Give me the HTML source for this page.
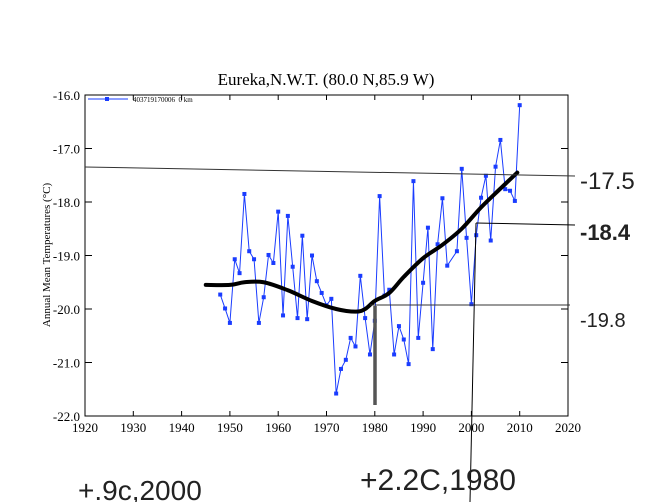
<!DOCTYPE html>
<html><head><meta charset="utf-8"><style>
body{margin:0;background:#fff;}
svg{display:block;font-family:"Liberation Serif",serif;}
.hand{font-family:"Liberation Sans",sans-serif;fill:#222;}
</style></head><body>
<svg id="chart" width="650" height="502" viewBox="0 0 650 502">
<rect width="650" height="502" fill="#fff"/>
<text x="326" y="85" text-anchor="middle" font-size="17">Eureka,N.W.T. (80.0 N,85.9 W)</text>
<text transform="translate(50,255) rotate(-90)" text-anchor="middle" font-size="11">Annual Mean Temperatures (°C)</text>
<rect x="85" y="95" width="483" height="321" fill="none" stroke="#000" stroke-width="1"/>
<g id="axes"></g>
<g>
<line x1="88" y1="99" x2="128" y2="99" stroke="#1a3cff" stroke-width="1"/>
<rect x="105" y="97" width="4" height="4" fill="#1a3cff"/>
<text x="133" y="102" font-size="7">403719170006 &#160;0 km</text>
</g>
<g id="series"></g>
<g fill="none">
<line x1="85" y1="167" x2="575" y2="176" stroke="#333" stroke-width="1"/>
<line x1="476" y1="223" x2="575" y2="225" stroke="#000" stroke-width="1"/>
<line x1="370" y1="305" x2="570" y2="305" stroke="#333" stroke-width="1"/>
<line x1="476" y1="223" x2="470" y2="502" stroke="#000" stroke-width="1"/>
<line x1="375" y1="306" x2="375" y2="405" stroke="#555" stroke-width="3.5"/>
</g>
<text class="hand" x="580" y="189" font-size="24">-17.5</text>
<text class="hand" x="580" y="240" font-size="22" font-weight="bold">-18.4</text>
<text class="hand" x="580" y="327" font-size="20">-19.8</text>
<text class="hand" x="78" y="500" font-size="28" fill="#444">+.9c,2000</text>
<text class="hand" x="360" y="490" font-size="30" fill="#444">+2.2C,1980</text>
</svg>
<script>
const years=[1948,1949,1950,1951,1952,1953,1954,1955,1956,1957,1958,1959,1960,1961,1962,1963,1964,1965,1966,1967,1968,1969,1970,1971,1972,1973,1974,1975,1976,1977,1978,1979,1980,1981,1982,1983,1984,1985,1986,1987,1988,1989,1990,1991,1992,1993,1994,1995,1997,1998,1999,2000,2001,2002,2003,2004,2005,2006,2007,2008,2009,2010];
const temps=[-19.73,-19.99,-20.26,-19.07,-19.33,-17.85,-18.92,-19.07,-20.26,-19.78,-18.99,-19.14,-18.18,-20.12,-18.26,-19.21,-20.17,-18.63,-20.19,-19.00,-19.48,-19.70,-19.93,-19.81,-21.58,-21.12,-20.95,-20.54,-20.70,-19.38,-20.17,-20.85,-20.22,-17.89,-19.75,-19.64,-20.85,-20.32,-20.57,-21.03,-17.61,-20.54,-19.51,-18.48,-20.75,-18.79,-17.93,-19.19,-18.92,-17.38,-18.67,-19.91,-18.62,-17.92,-17.51,-18.72,-17.34,-16.84,-17.76,-17.79,-17.98,-16.19];
const trendYears=[1945,1950,1953,1957,1962,1967,1972,1976,1978,1980,1983,1986,1990,1994,1998,2002,2006,2009.5];
const trendVals=[-19.55,-19.55,-19.5,-19.5,-19.65,-19.85,-20.0,-20.05,-20.0,-19.85,-19.7,-19.4,-19.05,-18.8,-18.5,-18.1,-17.75,-17.45];
const xTicks=[1920,1930,1940,1950,1960,1970,1980,1990,2000,2010,2020];
const yTicks=[-16,-17,-18,-19,-20,-21,-22];
const NS='http://www.w3.org/2000/svg';
const X=y=>85+(y-1920)*4.83;
const Y=v=>95+(-16-v)*53.5;
function mk(t,a,p){const e=document.createElementNS(NS,t);for(const k in a)e.setAttribute(k,a[k]);p.appendChild(e);return e;}
const axes=document.getElementById('axes');
xTicks.forEach(t=>{
 const l=mk('line',{x1:X(t),x2:X(t),y1:416,y2:411,stroke:'#000'},axes);
 
 
 mk('line',{x1:X(t),x2:X(t),y1:95,y2:100,stroke:'#000'},axes);
 const tx=mk('text',{x:X(t),y:432,'text-anchor':'middle','font-size':13},axes);tx.textContent=t;
 
 
});
yTicks.forEach(t=>{
 const l=mk('line',{x1:85,x2:92,y1:Y(t),y2:Y(t),stroke:'#000'},axes);
 
 
 mk('line',{x1:568,x2:561,y1:Y(t),y2:Y(t),stroke:'#000'},axes);
 const tx=mk('text',{x:80,y:Y(t)+5,'text-anchor':'end','font-size':13},axes);tx.textContent=t.toFixed(1);
 
 
});
const s=document.getElementById('series');
const line=mk('polyline',{points:years.map((y,i)=>X(y)+','+Y(temps[i])).join(' '),fill:'none',stroke:'#1a3cff','stroke-width':1},s);


years.forEach((y,i)=>{
 const r=mk('rect',{x:X(y)-2,y:Y(temps[i])-2,width:4,height:4,fill:'#1a3cff'},s);
 
 
});
const P=trendYears.map((y,i)=>[X(y),Y(trendVals[i])]);
let d='M'+P[0][0]+','+P[0][1];
for(let i=0;i<P.length-1;i++){
 const p0=P[Math.max(0,i-1)],p1=P[i],p2=P[i+1],p3=P[Math.min(P.length-1,i+2)];
 d+=' C'+(p1[0]+(p2[0]-p0[0])/6)+','+(p1[1]+(p2[1]-p0[1])/6)+' '+(p2[0]-(p3[0]-p1[0])/6)+','+(p2[1]-(p3[1]-p1[1])/6)+' '+p2[0]+','+p2[1];
}
const tr=mk('path',{d:d,fill:'none',stroke:'#000','stroke-width':4,'stroke-linejoin':'round','stroke-linecap':'round'},s);


</script>
</body></html>
